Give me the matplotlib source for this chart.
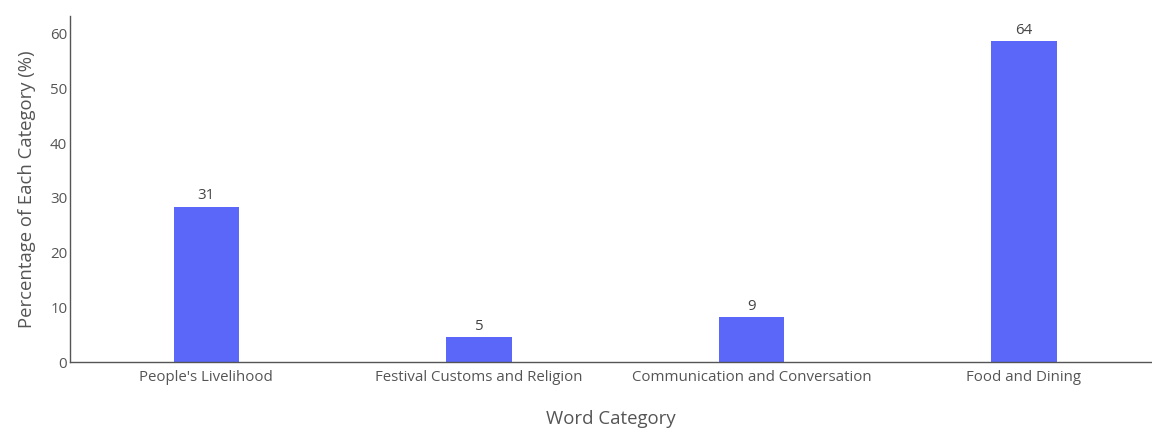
import numpy as np
import matplotlib.pyplot as plt

categories = ["People's Livelihood", "Festival Customs and Religion",
              "Communication and Conversation", "Food and Dining"]
counts = [31, 5, 9, 64]

plt.rcParams['font.family'] = ['Open Sans', 'DejaVu Sans']

total = sum(counts)
percentages = [c / total * 100 for c in counts]

fig = plt.figure(figsize=(11.52, 4.28), dpi=100)
ax = fig.add_axes([0.0608, 0.154, 0.9392, 0.809])

x = np.arange(len(categories))
bars = ax.bar(x, percentages, width=0.24, color='#5b67f8')

for b, c in zip(bars, counts):
    ax.text(b.get_x() + b.get_width() / 2, b.get_height() + 0.6, str(c),
            ha='center', va='bottom', fontsize=10.8, color='#444444')

ax.set_xlim(-0.5, 3.47)
ax.set_ylim(0, 63.3)
ax.set_xticks(x)
ax.set_xticklabels(categories)
ax.set_yticks(range(0, 61, 10))
ax.tick_params(length=0, labelsize=10.8, labelcolor='#555555')
ax.tick_params(axis='x', pad=6)
ax.tick_params(axis='y', pad=2)

for s in ['top', 'right']:
    ax.spines[s].set_visible(False)
for s in ['left', 'bottom']:
    ax.spines[s].set_color('#555555')
    ax.spines[s].set_linewidth(1)

ax.set_xlabel("Word Category", fontsize=13.4, color='#555555', labelpad=18)
ax.set_ylabel("Percentage of Each Category (%)", fontsize=13.3, color='#555555', labelpad=10)

fig.savefig("out.png", dpi=100)
